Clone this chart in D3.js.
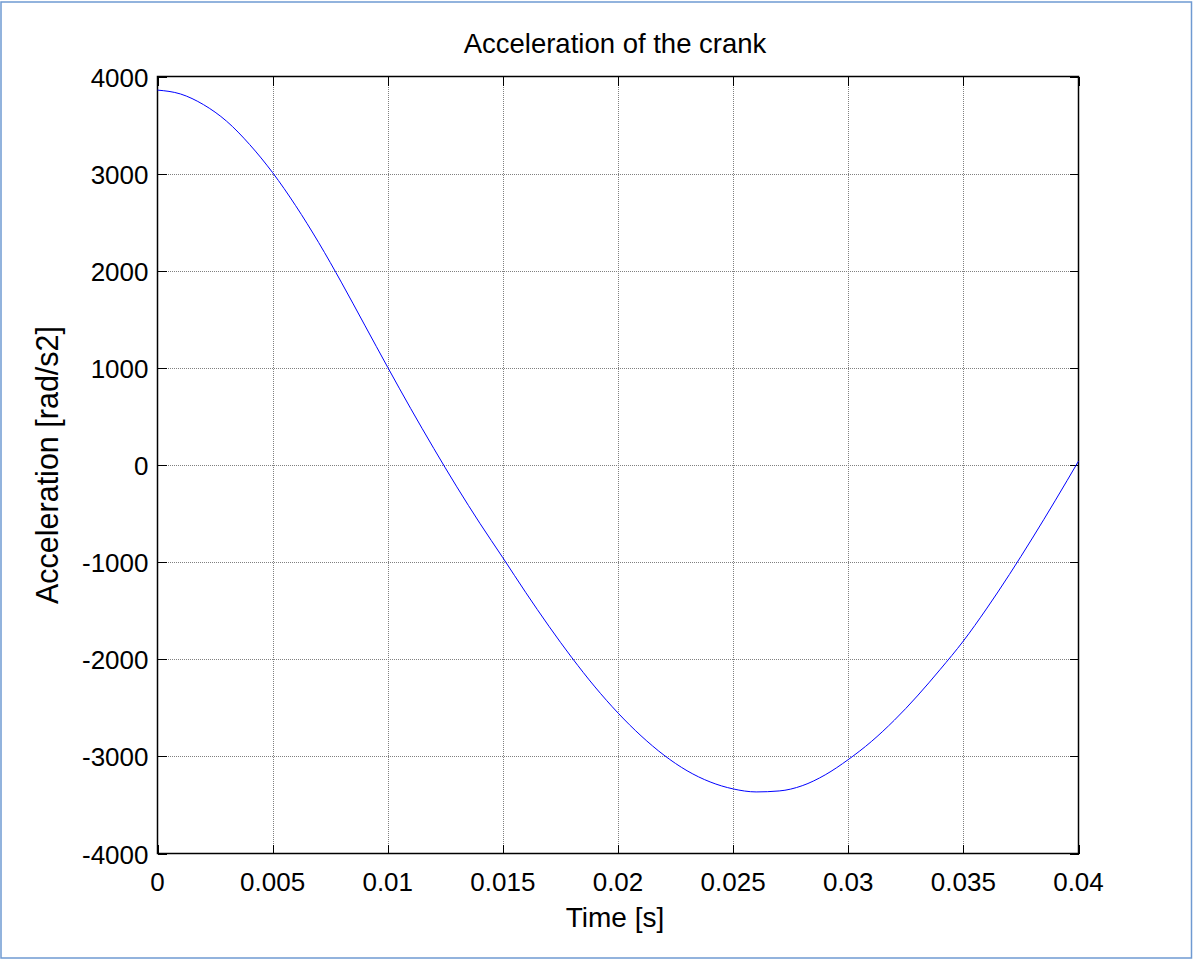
<!DOCTYPE html>
<html>
<head>
<meta charset="utf-8">
<script src="https://cdn.jsdelivr.net/npm/d3@7"></script>
<style>
  html, body { margin: 0; padding: 0; background: #fff; }
  svg { display: block; }
  text { font-family: "Liberation Sans", Arial, Helvetica, sans-serif; fill: #000; }
</style>
</head>
<body>
<svg id="chart" width="1193" height="960"></svg>
<script>
// Crank angular acceleration sampled every millisecond over one cycle
const timeSec = [
  0.000, 0.001, 0.002, 0.003, 0.004, 0.005, 0.006, 0.007, 0.008, 0.009,
  0.010, 0.011, 0.012, 0.013, 0.014, 0.015, 0.016, 0.017, 0.018, 0.019,
  0.020, 0.021, 0.022, 0.023, 0.024, 0.025, 0.026, 0.027, 0.028, 0.029,
  0.030, 0.031, 0.032, 0.033, 0.034, 0.035, 0.036, 0.037, 0.038, 0.039,
  0.040
];
const accel = [
  3860, 3820, 3710, 3540, 3300, 3010, 2670, 2290, 1875, 1440,
  1005, 580, 170, -225, -600, -955, -1315, -1660, -1985, -2285,
  -2553, -2788, -2988, -3148, -3263, -3335, -3366, -3356, -3302, -3190,
  -3033, -2848, -2628, -2378, -2103, -1812, -1482, -1127, -752, -362,
  40
];
const xTicks = [0, 0.005, 0.01, 0.015, 0.02, 0.025, 0.03, 0.035, 0.04];
const xTickLabels = ["0", "0.005", "0.01", "0.015", "0.02", "0.025", "0.03", "0.035", "0.04"];
const yTicks = [-4000, -3000, -2000, -1000, 0, 1000, 2000, 3000, 4000];

const titleText = "Acceleration of the crank";
const xLabelText = "Time [s]";
const yLabelText = "Acceleration [rad/s2]";

const W = 1193, H = 960;
const plot = { left: 157.5, right: 1078.5, top: 76.5, bottom: 853.5 };
const tickLen = 9;

const svg = d3.select("#chart");

// outer frame
svg.append("rect")
  .attr("x", 1).attr("y", 2)
  .attr("width", W - 2.5).attr("height", H - 4)
  .attr("fill", "#fff")
  .attr("stroke", "#6f9ad2")
  .attr("stroke-width", 1.5);

const x = d3.scaleLinear().domain([0, 0.04]).range([plot.left, plot.right]);
const y = d3.scaleLinear().domain([-4000, 4000]).range([plot.bottom, plot.top]);

// dotted grid
const grid = svg.append("g").attr("stroke", "#808080").attr("stroke-width", 1)
  .attr("stroke-dasharray", "1,1").attr("shape-rendering", "crispEdges");
grid.selectAll("line.gx").data(xTicks.slice(1, -1)).join("line")
  .attr("x1", d => Math.round(x(d)) + 0.5).attr("x2", d => Math.round(x(d)) + 0.5)
  .attr("y1", plot.top).attr("y2", plot.bottom);
grid.selectAll("line.gy").data(yTicks.slice(1, -1)).join("line")
  .attr("y1", d => Math.round(y(d)) + 0.5).attr("y2", d => Math.round(y(d)) + 0.5)
  .attr("x1", plot.left).attr("x2", plot.right);

// inward ticks on all four sides
const axisStyle = g => {
  g.select(".domain").remove();
  g.selectAll(".tick line").attr("stroke", "#000").attr("shape-rendering", "crispEdges");
  g.selectAll(".tick text").remove();
};
svg.append("g").attr("transform", `translate(0,${plot.bottom})`)
  .call(d3.axisTop(x).tickValues(xTicks).tickSize(tickLen)).call(axisStyle);
svg.append("g").attr("transform", `translate(0,${plot.top})`)
  .call(d3.axisBottom(x).tickValues(xTicks).tickSize(tickLen)).call(axisStyle);
svg.append("g").attr("transform", `translate(${plot.left},0)`)
  .call(d3.axisRight(y).tickValues(yTicks).tickSize(tickLen)).call(axisStyle);
svg.append("g").attr("transform", `translate(${plot.right},0)`)
  .call(d3.axisLeft(y).tickValues(yTicks).tickSize(tickLen)).call(axisStyle);

// axes box
svg.append("rect")
  .attr("x", plot.left).attr("y", plot.top)
  .attr("width", plot.right - plot.left).attr("height", plot.bottom - plot.top)
  .attr("fill", "none").attr("stroke", "#000").attr("stroke-width", 1.5);

// tick labels (plain hyphen for negatives)
svg.append("g").selectAll("text").data(xTicks).join("text")
  .attr("x", d => x(d)).attr("y", plot.bottom + 37)
  .attr("text-anchor", "middle").attr("font-size", 26)
  .text((d, i) => xTickLabels[i]);
svg.append("g").selectAll("text").data(yTicks).join("text")
  .attr("x", plot.left - 9).attr("y", d => y(d) + 10)
  .attr("text-anchor", "end").attr("font-size", 26)
  .text(d => String(d));

// curve
const series = timeSec.map((t, i) => ({ t, a: accel[i] }));
svg.append("path")
  .datum(series)
  .attr("fill", "none")
  .attr("stroke", "#0000ff")
  .attr("stroke-width", 1)
  .attr("d", d3.line().x(d => x(d.t)).y(d => y(d.a)).curve(d3.curveMonotoneX));

// titles
svg.append("text").attr("x", 615).attr("y", 53)
  .attr("text-anchor", "middle").attr("font-size", 27.5).text(titleText);
svg.append("text").attr("x", 615).attr("y", 927)
  .attr("text-anchor", "middle").attr("font-size", 28).text(xLabelText);
svg.append("text")
  .attr("transform", `translate(58,465) rotate(-90)`)
  .attr("text-anchor", "middle").attr("font-size", 30.5).text(yLabelText);
</script>
</body>
</html>
